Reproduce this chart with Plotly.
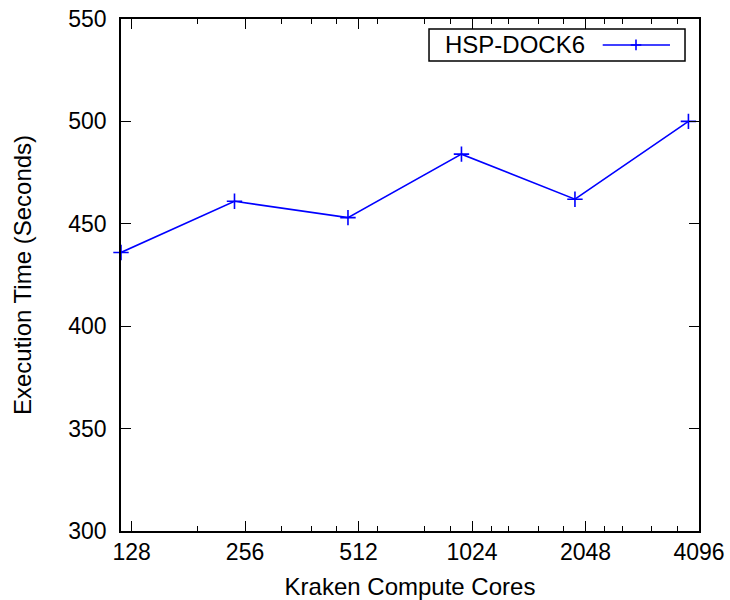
import math
import plotly.graph_objects as go

# Execution time of HSP-DOCK6 as the core count on Kraken grows (12 cores per node)
cores = [120, 240, 480, 960, 1920, 3840]
exec_time = [436, 461, 453, 484, 462, 500]

x_tick_vals = [128, 256, 512, 1024, 2048, 4096]
x_tick_text = ["128", "256", "512", "1024", "2048", "4096"]
x_minor_vals = [192, 320, 384, 448, 576, 768, 896,
                1152, 1280, 1536, 1792, 2304, 2560, 3072, 3584]
y_tick_vals = [300, 350, 400, 450, 500, 550]

series_name = "HSP-DOCK6"
BLUE = "#0000ff"
FONT = "Liberation Sans, Arial, Helvetica, sans-serif"

fig = go.Figure()
fig.add_trace(go.Scatter(
    x=cores, y=exec_time, mode="lines+markers", name=series_name,
    line=dict(color=BLUE, width=1.6),
    marker=dict(symbol="cross-thin", size=11, line=dict(color=BLUE, width=1.6)),
    showlegend=False, cliponaxis=False,
))

# Legend box in the upper right, sample drawn to the right of the label
box = dict(x0=0.5329, x1=0.9758, y0=0.918, y1=0.9805)
ly = (box["y0"] + box["y1"]) / 2
sx0, sx1, cx = 0.8334, 0.9498, 0.891
shapes = [
    dict(type="rect", xref="paper", yref="paper", **box,
         line=dict(color="black", width=1.5), fillcolor="white", layer="above"),
    dict(type="line", xref="paper", yref="paper", x0=sx0, x1=sx1, y0=ly, y1=ly,
         line=dict(color=BLUE, width=1.6), layer="above"),
    dict(type="line", xref="paper", yref="paper", x0=cx - 0.0092, x1=cx + 0.0092,
         y0=ly, y1=ly, line=dict(color=BLUE, width=1.6), layer="above"),
    dict(type="line", xref="paper", yref="paper", x0=cx, x1=cx,
         y0=ly - 0.0105, y1=ly + 0.0105, line=dict(color=BLUE, width=1.6), layer="above"),
]

fig.update_layout(
    width=730, height=600,
    margin=dict(l=121, r=31, t=19, b=69, autoexpand=False),
    paper_bgcolor="white", plot_bgcolor="white",
    font=dict(family=FONT, size=23, color="black"),
    shapes=shapes,
    annotations=[dict(text=series_name, xref="paper", yref="paper",
                      x=0.8062, y=ly, xanchor="right", yanchor="middle",
                      showarrow=False, font=dict(family=FONT, size=24, color="black"))],
    xaxis=dict(
        type="log", range=[math.log10(120), math.log10(4096)],
        tickmode="array", tickvals=x_tick_vals, ticktext=x_tick_text,
        ticks="inside", ticklen=10, tickwidth=1.2, tickcolor="black",
        minor=dict(tickmode="array", tickvals=x_minor_vals, ticks="inside",
                   ticklen=5, tickwidth=1.2, tickcolor="black", showgrid=False),
        showline=True, linecolor="black", linewidth=1.6, mirror="allticks",
        showgrid=False, zeroline=False, automargin=False,
        tickfont=dict(size=23), ticklabelstandoff=0,
        title=dict(text="Kraken Compute Cores", font=dict(size=24), standoff=23),
    ),
    yaxis=dict(
        range=[300, 550], tickmode="array", tickvals=y_tick_vals,
        ticks="inside", ticklen=10, tickwidth=1.2, tickcolor="black",
        showline=True, linecolor="black", linewidth=1.6, mirror="allticks",
        showgrid=False, zeroline=False, automargin=False,
        tickfont=dict(size=23), ticklabelstandoff=8,
        title=dict(text="Execution Time (Seconds)", font=dict(size=24), standoff=30),
    ),
)

fig.write_html("out.html")
